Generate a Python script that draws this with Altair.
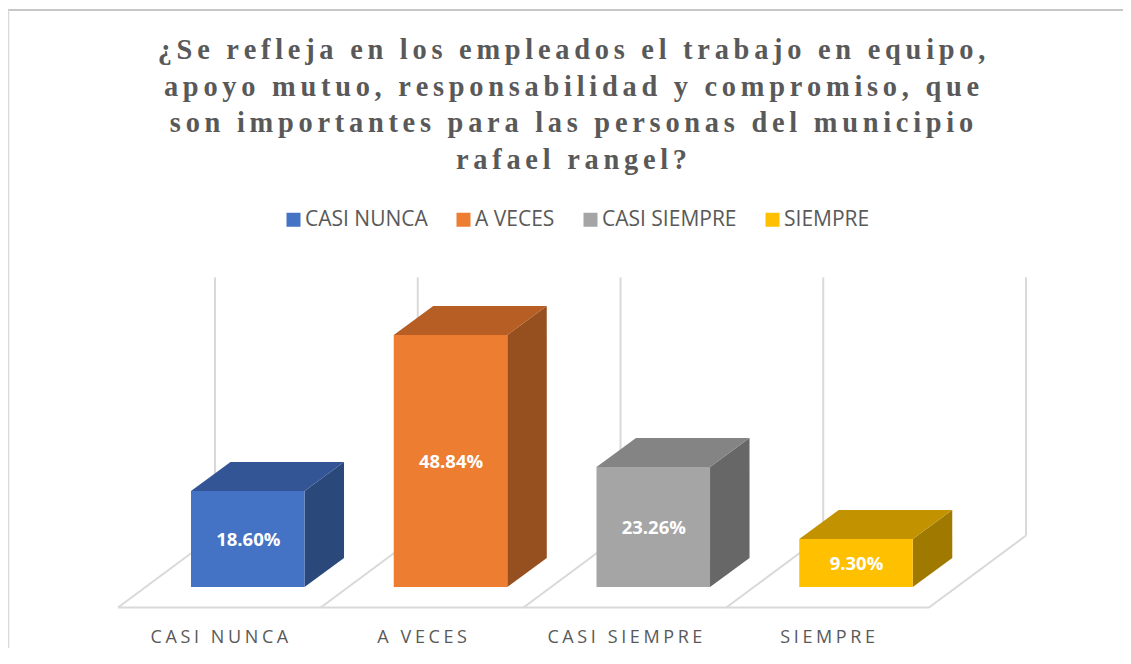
import altair as alt
import pandas as pd

CATEGORIES = ["CASI NUNCA", "A VECES", "CASI SIEMPRE", "SIEMPRE"]
VALUES = [18.60, 48.84, 23.26, 9.30]
LABELS = ["18.60%", "48.84%", "23.26%", "9.30%"]
FRONT = ["#4472C4", "#ED7D31", "#A5A5A5", "#FFC000"]
TOP = ["#345595", "#B65E23", "#848484", "#C29200"]
SIDE = ["#2A4879", "#964F1E", "#676767", "#A07A00"]
TITLE = [
    "¿Se refleja en los empleados el trabajo en equipo,",
    "apoyo mutuo, responsabilidad y compromiso, que",
    "son importantes para las personas del municipio",
    "rafael rangel?",
]
AXIS_MAX = 50

W, H = 1115, 640
PX_PER_CAT = 202.75
PX_PER_PCT = 5.16
X_DOMAIN = [(8 - 118) / PX_PER_CAT, (8 + W - 118) / PX_PER_CAT]
Y_DOMAIN = [(587 - 8 - H) / PX_PER_PCT, (587 - 8) / PX_PER_PCT]
FLOOR_DX, FLOOR_DY = 97 / PX_PER_CAT, 72 / PX_PER_PCT
BAR_DX, BAR_DY = 39.5 / PX_PER_CAT, 29 / PX_PER_PCT
BAR_LEFT, BAR_W = 0.36, 0.56
FRONT_Y, BACK_Y = -20.5 / PX_PER_PCT, 51.5 / PX_PER_PCT
LABEL_Y = -51 / PX_PER_PCT
GRID = "#D9D9D9"


def spaced(text, sep="\u200a\u200a"):
    return sep.join(text)


xs = alt.Scale(domain=X_DOMAIN, range=[0, W], nice=False, zero=False)
ys = alt.Scale(domain=Y_DOMAIN, range=[H, 0], nice=False, zero=False)
X = alt.X("x:Q", scale=xs, axis=None)
Y = alt.Y("y:Q", scale=ys, axis=None)

walls = pd.DataFrame(
    [{"x": i + FLOOR_DX, "y": BACK_Y, "y2": BACK_Y + AXIS_MAX} for i in range(5)]
)
wall_rules = alt.Chart(walls).mark_rule(color=GRID, strokeWidth=2).encode(x=X, y=Y, y2="y2:Q")

floor = pd.DataFrame(
    [{"x": i, "x2": i + FLOOR_DX, "y": FRONT_Y, "y2": BACK_Y} for i in range(5)]
    + [{"x": 0, "x2": 4, "y": FRONT_Y, "y2": FRONT_Y}]
)
floor_rules = alt.Chart(floor).mark_rule(color=GRID, strokeWidth=2).encode(x=X, x2="x2:Q", y=Y, y2="y2:Q")

front_rows, top_rows, side_rows, label_rows, cat_rows = [], [], [], [], []
for i, (cat, val, lab) in enumerate(zip(CATEGORIES, VALUES, LABELS)):
    l = i + BAR_LEFT
    r = l + BAR_W
    front_rows.append({"cat": cat, "x": l, "x2": r, "y": 0, "y2": val})
    label_rows.append({"x": l + BAR_W / 2, "y": val / 2, "t": lab})
    cat_rows.append({"x": i + 0.5, "y": LABEL_Y, "t": spaced(cat)})
    for px, lo, hi in [
        (l, val, val),
        (l + BAR_DX, val, val + BAR_DY),
        (r, val, val + BAR_DY),
        (r + BAR_DX, val + BAR_DY, val + BAR_DY),
    ]:
        top_rows.append({"cat": cat, "x": px, "y": lo, "y2": hi, "c": TOP[i]})
    side_rows.append({"cat": cat, "x": r, "y": 0, "y2": val, "c": SIDE[i]})
    side_rows.append({"cat": cat, "x": r + BAR_DX, "y": BAR_DY, "y2": val + BAR_DY, "c": SIDE[i]})

front = alt.Chart(pd.DataFrame(front_rows)).mark_rect().encode(
    x=X, x2="x2:Q", y=Y, y2="y2:Q",
    color=alt.Color(
        "cat:N",
        scale=alt.Scale(domain=CATEGORIES, range=FRONT),
        legend=alt.Legend(
            title=None, orient="none", legendX=275, legendY=201,
            direction="horizontal", columns=4, columnPadding=25,
            symbolType="square", symbolSize=196, symbolStrokeWidth=0,
            labelFont="Open Sans", labelFontSize=21, labelColor="#595959",
            labelOffset=1, symbolOffset=0,
        ),
    ),
)


def face(rows):
    return alt.Chart(pd.DataFrame(rows)).mark_area(interpolate="linear", opacity=1).encode(
        x=X, y=Y, y2="y2:Q", detail="cat:N", fill=alt.Fill("c:N", scale=None, legend=None)
    )


top_face = face(top_rows)
side_face = face(side_rows)

bar_labels = alt.Chart(pd.DataFrame(label_rows)).mark_text(
    font="Open Sans", fontSize=18.5, fontWeight="bold", color="#FFFFFF", baseline="middle", dy=1, dx=0.5
).encode(x=X, y=Y, text="t:N")

cat_labels = alt.Chart(pd.DataFrame(cat_rows)).mark_text(
    font="Open Sans", fontSize=18, color="#595959", baseline="middle"
).encode(x=X, y=Y, text="t:N")

border_top = alt.Chart(pd.DataFrame({"a": [0]})).mark_rule(color="#B5B5B5", strokeWidth=1.5).encode(
    x=alt.value(0), x2=alt.value(W), y=alt.value(2)
)
border_left = alt.Chart(pd.DataFrame({"a": [0]})).mark_rule(color="#D9D9D9", strokeWidth=1.5).encode(
    x=alt.value(0.5), y=alt.value(2), y2=alt.value(H)
)

chart = alt.layer(
    border_top, border_left, wall_rules, floor_rules, side_face, top_face, front, bar_labels, cat_labels
).properties(
    width=W,
    height=H,
    padding=0,
    autosize=alt.AutoSizeParams(type="none"),
    title=alt.TitleParams(
        text=[spaced(t) for t in TITLE],
        font="Liberation Serif",
        fontSize=28.4,
        fontWeight="bold",
        color="#595959",
        lineHeight=36.5,
        anchor="middle",
        offset=-167,
        dx=6,
    ),
).configure_view(stroke=None)

chart.save("out.html", embed_options={"renderer": "svg", "actions": False})
